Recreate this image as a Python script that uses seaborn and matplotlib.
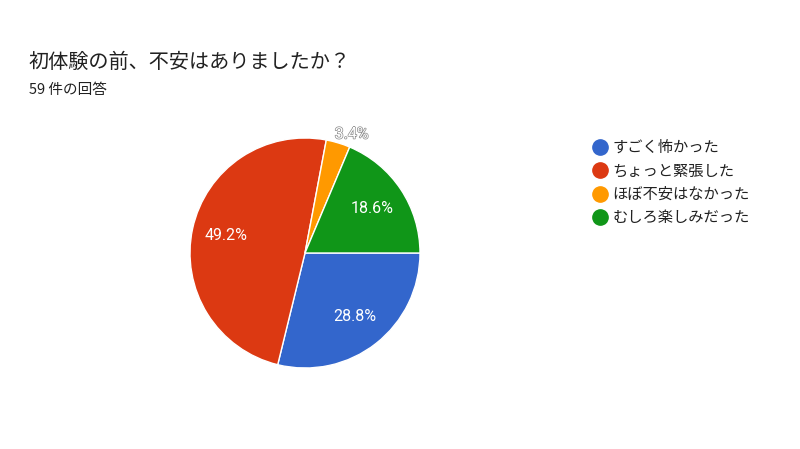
import numpy as np
import matplotlib.pyplot as plt
import matplotlib.patheffects as pe
from matplotlib.lines import Line2D
import seaborn as sns

# data
labels = ['すごく怖かった', 'ちょっと緊張した', 'ほぼ不安はなかった', 'むしろ楽しみだった']
counts = [17, 29, 2, 11]
colors = ['#3366cc', '#dc3912', '#ff9900', '#109618']
title = '初体験の前、不安はありましたか？'
subtitle = '59 件の回答'

sns.set_theme(style='white')
plt.rcParams['font.family'] = ['Noto Sans CJK JP', 'DejaVu Sans']

fig = plt.figure(figsize=(8, 4.49), dpi=100)
fig.patch.set_facecolor('white')

# pie axes: center ~ (305, 253) px, radius ~115 px
ax = fig.add_axes([190 / 800, 81 / 449, 230 / 800, 230 / 449])
wedges, texts, autotexts = ax.pie(
    counts, colors=colors, startangle=0, counterclock=False,
    autopct='%1.1f%%', pctdistance=0.7,
    wedgeprops=dict(edgecolor='white', linewidth=1),
    textprops=dict(color='white', fontsize=11.5, family=['Roboto', 'DejaVu Sans']),
)
ax.set_xlim(-1, 1)
ax.set_ylim(-1, 1)
ax.set_aspect('equal')
ax.axis('off')

# small slice: label goes outside with grey outline
for w, t, c in zip(wedges, autotexts, counts):
    if c / sum(counts) < 0.05:
        ang = np.deg2rad((w.theta1 + w.theta2) / 2)
        t.set_position((1.13 * np.cos(ang) + 0.08, 1.08 * np.sin(ang)))
        t.set_clip_on(False)
        t.set_path_effects([pe.withStroke(linewidth=1.0, foreground='#8a8a8a')])

fig.text(29 / 800, 1 - 62 / 449, title, fontsize=14.5, color='#212121', va='center')
fig.text(29 / 800, 1 - 90 / 449, subtitle, fontsize=10.5, color='#212121', va='center')

handles = [Line2D([0], [0], marker='o', linestyle='', markersize=11,
                  markerfacecolor=c, markeredgecolor=c) for c in colors]
fig.legend(handles, labels, loc='upper left', bbox_to_anchor=(585 / 800, 1 - 133 / 449),
           frameon=False, fontsize=11, handletextpad=0.2, labelspacing=0.42,
           borderaxespad=0, handlelength=1.2, labelcolor='#212121')

fig.savefig('out.png', dpi=100, facecolor='white')
